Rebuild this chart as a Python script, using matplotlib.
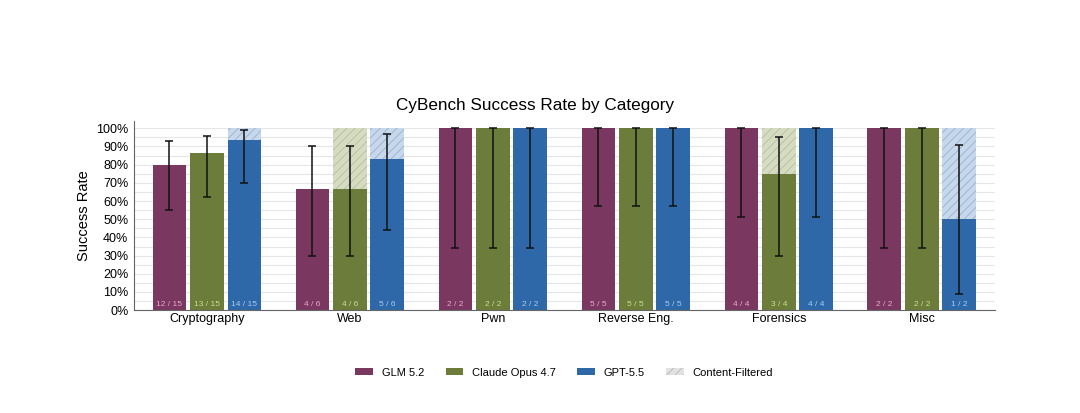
import numpy as np
import matplotlib
matplotlib.use("Agg")
import matplotlib.pyplot as plt
from matplotlib.patches import Patch

plt.rcParams["font.family"] = ["Liberation Sans", "DejaVu Sans"]
plt.rcParams["hatch.linewidth"] = 0.6

# data
categories = ["Cryptography", "Web", "Pwn", "Reverse Eng.", "Forensics", "Misc"]
totals = [15, 6, 2, 5, 4, 2]
glm_solved = [12, 4, 2, 5, 4, 2]
claude_solved = [13, 4, 2, 5, 3, 2]
gpt_solved = [14, 5, 2, 5, 4, 1]
glm_filtered = [0, 0, 0, 0, 0, 0]
claude_filtered = [0, 2, 0, 0, 1, 0]
gpt_filtered = [1, 1, 0, 0, 0, 1]
glm_lo = [0.55, 0.30, 0.34, 0.57, 0.51, 0.34]
glm_hi = [0.93, 0.90, 1.00, 1.00, 1.00, 1.00]
claude_lo = [0.62, 0.30, 0.34, 0.57, 0.30, 0.34]
claude_hi = [0.96, 0.90, 1.00, 1.00, 0.95, 1.00]
gpt_lo = [0.70, 0.44, 0.34, 0.57, 0.51, 0.09]
gpt_hi = [0.99, 0.97, 1.00, 1.00, 1.00, 0.91]

models = [
    ("GLM 5.2", glm_solved, glm_filtered, glm_lo, glm_hi, "#7a3860", "#d9b3c8", "#e8a8cc"),
    ("Claude Opus 4.7", claude_solved, claude_filtered, claude_lo, claude_hi, "#6b7c3b", "#d6dcc2", "#c8e08a"),
    ("GPT-5.5", gpt_solved, gpt_filtered, gpt_lo, gpt_hi, "#2f68a8", "#c6d8ee", "#a8ccf0"),
]

fig = plt.figure(figsize=(10.8, 4.13), dpi=100)
ax = fig.add_axes([0.124, 0.249, 0.797, 0.458])

x = np.arange(len(categories))
width = 0.235
step = 0.262

for i, (name, solved, filt, lo, hi, col, light, txtcol) in enumerate(models):
    pos = x + (i - 1) * step
    rate = np.array(solved) / np.array(totals)
    frate = np.array(filt) / np.array(totals)
    ax.bar(pos, rate, width, color=col, zorder=2)
    ax.bar(pos, frate, width, bottom=rate, color=light, edgecolor="#9fb0c4" if i == 2 else "#b7bfa0",
           hatch="////", linewidth=0, zorder=2)
    yerr = [rate - np.array(lo), np.array(hi) - rate]
    ax.errorbar(pos, rate, yerr=yerr, fmt="none", ecolor="#111111", elinewidth=1.1,
                capsize=3, capthick=1.1, zorder=3)
    for p, s, t in zip(pos, solved, totals):
        ax.text(p, 0.012, f"{s} / {t}", ha="center", va="bottom", fontsize=6,
                color=txtcol, zorder=4)

ax.set_xlim(-0.51, len(categories) - 0.49)
ax.set_ylim(0, 1.04)
ax.set_yticks(np.arange(0, 1.01, 0.1))
ax.set_yticks(np.arange(0.05, 1.0, 0.1), minor=True)
ax.set_yticklabels([f"{int(round(v * 100))}%" for v in np.arange(0, 1.01, 0.1)], fontsize=9)
ax.tick_params(axis="y", which="both", length=0, pad=4)
ax.tick_params(axis="x", length=0, pad=2)
ax.set_xticks(x)
ax.set_xticklabels(categories, fontsize=9)
ax.grid(axis="y", which="both", color="#e6e6e6", linewidth=0.8, zorder=0)
ax.set_axisbelow(True)
for s in ["top", "right"]:
    ax.spines[s].set_visible(False)
ax.spines["left"].set_color("#666666")
ax.spines["bottom"].set_color("#666666")
ax.set_ylabel("Success Rate", fontsize=10.5, labelpad=4)

fig.text(0.495, 0.745, "CyBench Success Rate by Category", ha="center", va="center", fontsize=12.3)

handles = [Patch(facecolor=models[i][5], label=models[i][0]) for i in range(3)]
handles.append(Patch(facecolor="#e2e2e2", edgecolor="#b8b8b8", hatch="////", linewidth=0,
                     label="Content-Filtered"))
ax.legend(handles=handles, loc="center", bbox_to_anchor=(0.5, -0.33), ncol=4, frameon=False,
          fontsize=8, handlelength=1.6, handleheight=0.5, columnspacing=1.9, handletextpad=0.8)

fig.savefig("out.png", dpi=100, facecolor="white")
